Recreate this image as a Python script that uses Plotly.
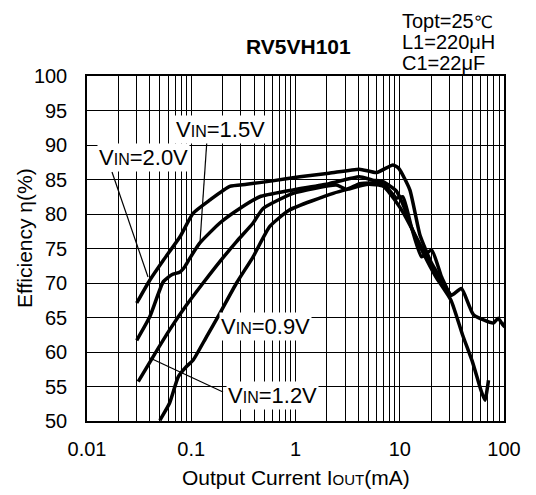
import plotly.graph_objects as go

# ---- data ----
cur_20 = [0.03, 0.04, 0.054, 0.078, 0.104, 0.15, 0.234, 0.34, 0.6, 1.1, 2.1, 4.1, 6.0, 8.6, 9.8, 12.5, 15.6, 20, 25, 31, 39, 51, 79, 88, 100, 106]
eff_20 = [67.1, 70.4, 73.3, 76.7, 80.1, 82.0, 84.0, 84.3, 84.8, 85.4, 85.9, 86.5, 86.0, 87.1, 86.6, 83.5, 77.0, 73.0, 70.5, 68.2, 69.2, 65.4, 64.2, 64.9, 63.7, 65.1]

cur_15 = [0.03, 0.04, 0.054, 0.065, 0.078, 0.087, 0.097, 0.121, 0.188, 0.292, 0.454, 0.88, 2.1, 4.1, 5.5, 6.9, 9.3, 11, 13, 16, 22, 31, 40, 50, 60, 65.6, 71]
eff_15 = [61.7, 65.1, 70.2, 71.2, 71.6, 72.4, 73.6, 75.8, 78.7, 80.8, 82.5, 83.4, 84.4, 85.4, 84.9, 84.7, 83.3, 81.0, 78.0, 75.0, 71.0, 67.5, 62.5, 58.5, 54.5, 53.0, 55.9]

cur_12 = [0.031, 0.043, 0.062, 0.090, 0.130, 0.188, 0.272, 0.392, 0.489, 0.948, 2.47, 3.08, 4.14, 6.9, 9.3, 10.7, 13, 16.2, 20.2, 25, 31]
eff_12 = [55.7, 59.3, 63.2, 66.8, 70.0, 73.1, 76.0, 78.7, 80.8, 83.0, 84.2, 83.6, 84.4, 84.4, 82.3, 82.5, 78.0, 73.8, 74.8, 71.0, 68.0]

cur_09 = [0.050, 0.062, 0.075, 0.090, 0.104, 0.140, 0.188, 0.272, 0.392, 0.567, 0.881, 2.3, 3.2, 5.0, 7.0, 9.0, 11, 14, 20, 31]
eff_09 = [50.1, 52.6, 56.4, 57.9, 58.8, 62.2, 65.6, 70.0, 73.8, 78.2, 80.6, 83.0, 83.6, 84.3, 84.0, 82.0, 80.0, 77.0, 72.5, 68.2]

x_tickvals = [0.01, 0.1, 1, 10, 100]
x_ticktext = ["0.01", "0.1", "1", "10", "100"]
y_tickvals = [50, 55, 60, 65, 70, 75, 80, 85, 90, 95, 100]

# ---- layout helpers (page pixel -> paper) ----
PAGE_W, PAGE_H = 536, 495
OFF = 8  # body margin of the html page
W, H = PAGE_W - OFF, PAGE_H - OFF
L, R, T, B = 87, 504, 76, 421  # plot area in page pixels
def pxx(x):
    return (x - L) / (R - L)
def pxy(y):
    return (B - y) / (B - T)

FONT = "Liberation Sans, Arial, sans-serif"
fig = go.Figure()
for xs, ys in [(cur_20, eff_20), (cur_15, eff_15), (cur_12, eff_12), (cur_09, eff_09)]:
    fig.add_trace(go.Scatter(x=xs, y=ys, mode="lines",
                             line=dict(color="black", width=3.5, shape="spline", smoothing=0.5),
                             cliponaxis=False, showlegend=False, hoverinfo="skip"))

fig.update_layout(
    width=W, height=H,
    margin=dict(l=L - OFF, r=PAGE_W - R, t=T - OFF, b=PAGE_H - B, autoexpand=False),
    paper_bgcolor="white", plot_bgcolor="white",
    font=dict(family=FONT, size=20, color="black"),
    showlegend=False,
)
fig.update_xaxes(type="log", range=[-2, 2], tickvals=x_tickvals, ticktext=x_ticktext,
                 showgrid=True, gridcolor="black", gridwidth=1.4,
                 minor=dict(dtick="D1", showgrid=True, gridcolor="black", gridwidth=1.4, ticks=""),
                 showline=True, linecolor="black", linewidth=1.5, mirror=True,
                 ticks="", ticklabelstandoff=9, tickfont=dict(size=20),
                 automargin=False, zeroline=False)
fig.update_yaxes(range=[50, 100], tickvals=y_tickvals,
                 showgrid=True, gridcolor="black", gridwidth=1.4,
                 showline=True, linecolor="black", linewidth=1.5, mirror=True,
                 ticks="", ticklabelstandoff=14, tickfont=dict(size=20),
                 automargin=False, zeroline=False)

ann = []
# axis titles
ann.append(dict(text="Output Current I<span style='font-size:15px'>OUT</span>(mA)",
                x=pxx(296), y=pxy(477), xref="paper", yref="paper", showarrow=False,
                font=dict(size=21), xanchor="center", yanchor="middle"))
ann.append(dict(text="Efficiency η(%)", x=pxx(25), y=pxy(238), xref="paper", yref="paper",
                showarrow=False, font=dict(size=21), textangle=-90,
                xanchor="center", yanchor="middle"))
# chart title and conditions
ann.append(dict(text="<b>RV5VH101</b>", x=pxx(298), y=pxy(47), xref="paper", yref="paper",
                showarrow=False, font=dict(size=21), xanchor="center", yanchor="middle"))
cond_lines = ["Topt=25<span style='font-family:DejaVu Sans;font-size:17px'>℃</span>",
              "L1=220μH", "C1=22μF"]
cond_text = "<br>".join("<span style='font-size:20px'>" + s + "</span>" for s in cond_lines)
ann.append(dict(text=cond_text, x=pxx(400), y=1 + (T - OFF) / (B - T), xref="paper", yref="paper",
                showarrow=False, font=dict(size=16), xanchor="left", yanchor="top", align="left"))

def vin(v):
    return "V<span style='font-size:16px'>IN</span>=" + v
for txt, cx, cy in [("2.0V", 143, 157), ("1.5V", 220, 129), ("0.9V", 265, 326), ("1.2V", 272, 395)]:
    ann.append(dict(text=vin(txt), x=pxx(cx), y=pxy(cy), xref="paper", yref="paper",
                    showarrow=False, font=dict(size=22), xanchor="center", yanchor="middle",
                    bgcolor="white", borderpad=1))
fig.update_layout(annotations=ann)

shapes = []
for (x0, y0, x1, y1) in [(112, 172, 148, 277), (207, 139, 200, 242), (150, 358, 223, 392)]:
    shapes.append(dict(type="line", xref="paper", yref="paper",
                       x0=pxx(x0), y0=pxy(y0), x1=pxx(x1), y1=pxy(y1),
                       line=dict(color="black", width=1.2), layer="above"))
fig.update_layout(shapes=shapes)

fig.write_html("out.html")
